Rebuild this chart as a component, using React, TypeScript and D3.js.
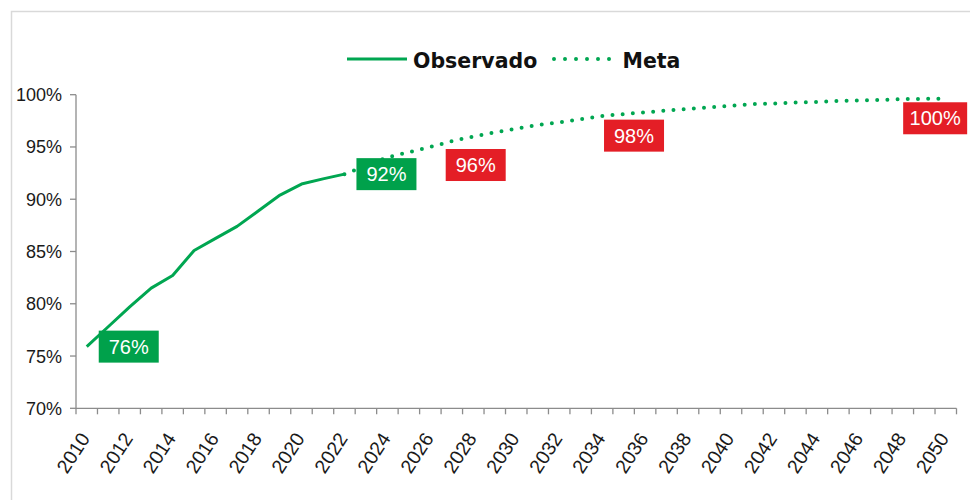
import React from 'react';
import * as d3 from 'd3';

// ---------- data ----------
const years: number[] = d3.range(2010, 2051);
const tickLabelYears: number[] = years.filter((y) => (y - 2010) % 2 === 0);
const yTicks: number[] = [70, 75, 80, 85, 90, 95, 100];

const observedYears: number[] = [2010, 2011, 2012, 2013, 2014, 2015, 2016, 2017, 2018, 2019, 2020, 2021, 2022];
const observedValues: number[] = [75.9, 77.8, 79.7, 81.5, 82.7, 85.1, 86.25, 87.4, 88.9, 90.4, 91.45, 91.95, 92.4];

const metaYears: number[] = [2022, 2023, 2024, 2025, 2026, 2027, 2028, 2029, 2030, 2031, 2032, 2033, 2034, 2035, 2036,
  2037, 2038, 2039, 2040, 2041, 2042, 2043, 2044, 2045, 2046, 2047, 2048, 2049, 2050];
const metaValues: number[] = [92.4, 93.2, 94.0, 94.5, 95.0, 95.55, 96.0, 96.4, 96.75, 97.1, 97.35, 97.65, 97.95, 98.15, 98.3,
  98.5, 98.65, 98.8, 98.95, 99.1, 99.15, 99.25, 99.3, 99.4, 99.45, 99.5, 99.58, 99.6, 99.62];

const observedLabelYears: number[] = [2010, 2022];
const observedLabelTexts: string[] = ['76%', '92%'];
const metaLabelYears: number[] = [2028, 2035, 2050];
const metaLabelTexts: string[] = ['96%', '98%', '100%'];

const seriesNames: string[] = ['Observado', 'Meta'];

// ---------- style / layout ----------
const W = 970;
const H = 500;
const GREEN_LINE = '#00a651';
const GREEN_BOX = '#00a14b';
const RED_BOX = '#e41e26';
const AXIS = '#8c8c8c';
const TEXT = '#1a1a1a';
const FONT = '"Liberation Sans", Arial, sans-serif';
const LEGEND_FONT = '"DejaVu Sans", Verdana, sans-serif';

// offsets of the meta label boxes' centres from their anchor point (px)
const metaLabelOffsets: [number, number][] = [[2.4, 28.5], [10.4, 21.6], [-10.6, 19.6]];

export default function App() {
  const x = d3.scaleBand<number>().domain(years).range([76, 956.5]).padding(0);
  const y = d3.scaleLinear().domain([70, 100]).range([408.3, 94.7]);
  const bw = x.bandwidth();
  const cx = (yr: number) => (x(yr) as number) + bw / 2;

  const lineGen = d3
    .line<[number, number]>()
    .x((d) => cx(d[0]))
    .y((d) => y(d[1]));

  const obsPath = lineGen(observedYears.map((yr, i) => [yr, observedValues[i]]) as [number, number][]) || '';
  const metaPath = lineGen(metaYears.map((yr, i) => [yr, metaValues[i]]) as [number, number][]) || '';

  const boundaries = [...years.map((yr) => x(yr) as number), x.range()[1]];
  const [x0, x1] = x.range();
  const yBottom = y(70);
  const yTop = y(100);

  const boxW = (t: string) => (t.length >= 4 ? 64 : 60);
  const boxH = 32;

  const labels: { text: string; cx: number; cy: number; color: string }[] = [];
  observedLabelYears.forEach((yr, i) => {
    const v = observedValues[observedYears.indexOf(yr)];
    const t = observedLabelTexts[i];
    labels.push({ text: t, cx: cx(yr) + 12 + boxW(t) / 2, cy: y(v), color: GREEN_BOX });
  });
  metaLabelYears.forEach((yr, i) => {
    const v = metaValues[metaYears.indexOf(yr)];
    const t = metaLabelTexts[i];
    const [dx, dy] = metaLabelOffsets[i];
    labels.push({ text: t, cx: cx(yr) + dx, cy: y(v) + dy, color: RED_BOX });
  });

  return (
    <svg
      width={W}
      height={H}
      viewBox={`0 0 ${W} ${H}`}
      style={{ position: 'absolute', left: 0, top: 0, background: '#fff' }}
    >
      <rect x={0} y={0} width={W} height={H} fill="#fff" />
      {/* chart border */}
      <rect x={11.5} y={11.5} width={W + 20} height={H + 20} fill="none" stroke="#d9d9d9" strokeWidth={1.5} />

      {/* legend */}
      <g>
        <line x1={347} x2={407} y1={59} y2={59} stroke={GREEN_LINE} strokeWidth={3} />
        <text x={413} y={67.5} fontFamily={LEGEND_FONT} fontWeight="bold" fontSize={20.5} fill="#111">
          {seriesNames[0]}
        </text>
        <line
          x1={554}
          x2={610}
          y1={59}
          y2={59}
          stroke={GREEN_LINE}
          strokeWidth={4}
          strokeLinecap="round"
          strokeDasharray="0 11"
        />
        <text x={622.5} y={67.5} fontFamily={LEGEND_FONT} fontWeight="bold" fontSize={20.5} fill="#111">
          {seriesNames[1]}
        </text>
      </g>

      {/* y axis */}
      <line x1={x0} x2={x0} y1={yTop} y2={yBottom} stroke={AXIS} strokeWidth={1.3} />
      {yTicks.map((t) => (
        <g key={t}>
          <line x1={x0 - 6} x2={x0} y1={y(t)} y2={y(t)} stroke={AXIS} strokeWidth={1.3} />
          <text
            x={x0 - 14}
            y={y(t)}
            dy="0.36em"
            textAnchor="end"
            fontFamily={FONT}
            fontSize={18}
            fill={TEXT}
          >
            {d3.format('.0%')(t / 100)}
          </text>
        </g>
      ))}

      {/* x axis */}
      <line x1={x0} x2={x1} y1={yBottom} y2={yBottom} stroke={AXIS} strokeWidth={1.3} />
      {boundaries.map((b, i) => (
        <line key={i} x1={b} x2={b} y1={yBottom} y2={yBottom + 6} stroke={AXIS} strokeWidth={1.3} />
      ))}
      {tickLabelYears.map((yr) => (
        <text
          key={yr}
          transform={`translate(${cx(yr) + 4},${yBottom + 30}) rotate(-57)`}
          textAnchor="end"
          fontFamily={FONT}
          fontSize={19.5}
          fill={TEXT}
        >
          {yr}
        </text>
      ))}

      {/* series */}
      <path d={obsPath} fill="none" stroke={GREEN_LINE} strokeWidth={3} strokeLinejoin="round" />
      <path
        d={metaPath}
        fill="none"
        stroke={GREEN_LINE}
        strokeWidth={4}
        strokeLinecap="round"
        strokeDasharray="0 10.2"
      />

      {/* data labels */}
      {labels.map((l, i) => (
        <g key={i}>
          <rect x={l.cx - boxW(l.text) / 2} y={l.cy - boxH / 2} width={boxW(l.text)} height={boxH} fill={l.color} />
          <text
            x={l.cx}
            y={l.cy}
            dy="0.36em"
            textAnchor="middle"
            fontFamily={FONT}
            fontSize={20}
            fill="#fff"
          >
            {l.text}
          </text>
        </g>
      ))}
    </svg>
  );
}
